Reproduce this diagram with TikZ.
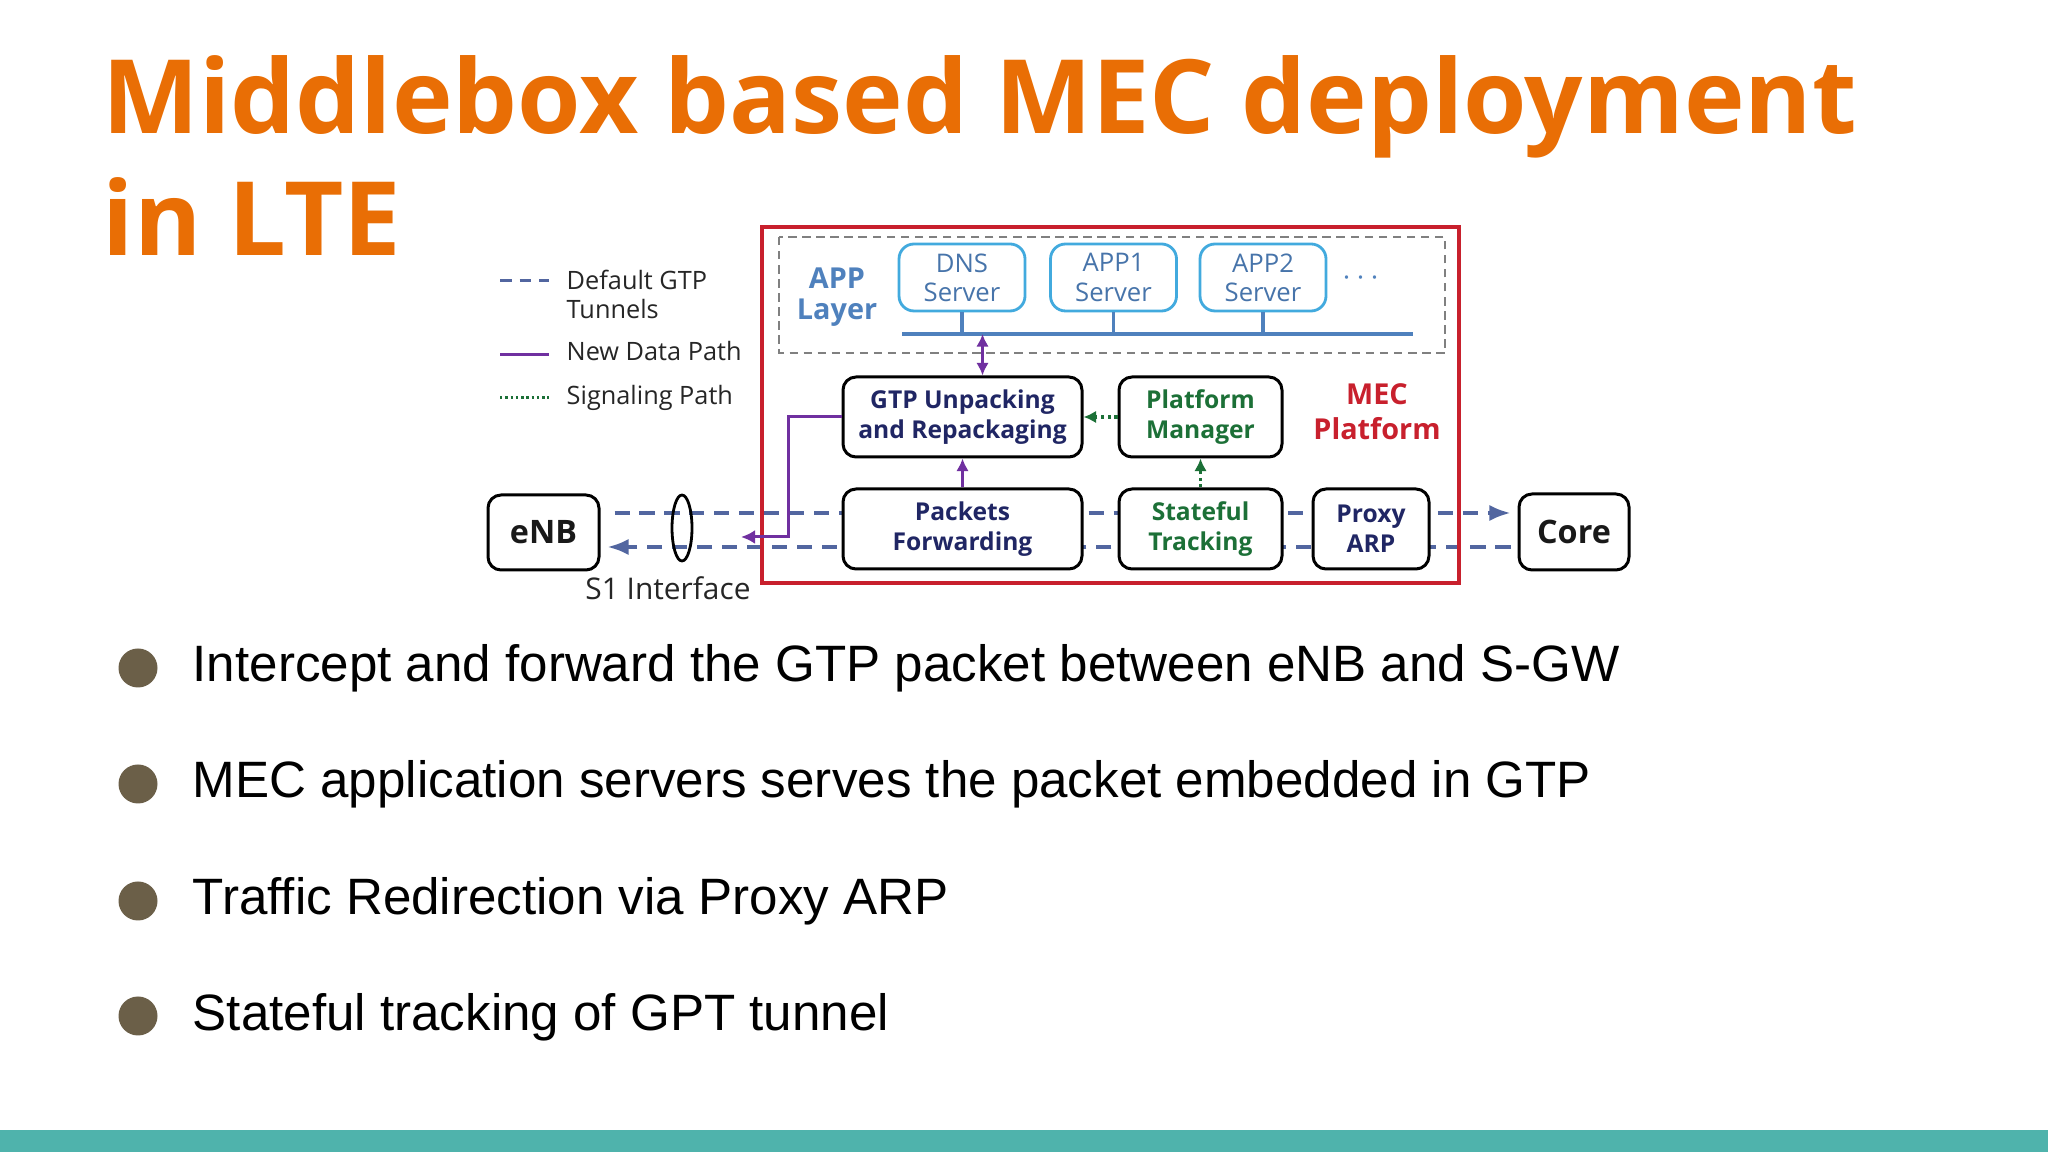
\documentclass[tikz,border=0pt]{standalone}
\usepackage{fontspec}
\setmainfont{Liberation Sans}
\newfontfamily\osans{Open Sans}
\usetikzlibrary{arrows.meta,backgrounds}
\definecolor{titleorange}{RGB}{233,110,5}
\definecolor{bulletbrown}{RGB}{107,95,72}
\definecolor{barteal}{RGB}{79,179,172}
\definecolor{mecred}{RGB}{200,32,45}
\definecolor{tunnelblue}{RGB}{82,102,160}
\definecolor{pathpurple}{RGB}{112,48,160}
\definecolor{siggreen}{RGB}{28,112,55}
\definecolor{appblue}{RGB}{79,129,189}
\definecolor{appcyan}{RGB}{66,170,222}
\definecolor{boxnavy}{RGB}{32,38,100}
\begin{document}
\begin{tikzpicture}[x=0.1mm,y=-0.1mm,
    title/.style={anchor=base west,inner sep=0pt,text=titleorange,
                  font=\osans\bfseries\fontsize{29.2}{34}\selectfont},
    btext/.style={anchor=base west,inner sep=0pt,font=\fontsize{14.55}{17}\selectfont},
    legend/.style={anchor=base west,inner sep=0pt,text=black!85,
                   font=\osans\fontsize{7.2}{8.6}\selectfont},
    box/.style={draw=black,line width=0.85pt,rounded corners=1.3mm,fill=white,
                align=center,inner sep=0pt,text=boxnavy,
                font=\osans\bfseries\fontsize{7}{8.6}\selectfont},
    appbox/.style={draw=appcyan,line width=0.8pt,rounded corners=1.5mm,fill=white,
                   align=center,inner sep=0pt,text=appblue!90!black,
                   minimum width=12.6mm,minimum height=6.7mm,
                   font=\osans\fontsize{7.3}{8.3}\selectfont},
    tunnel/.style={draw=tunnelblue,line width=1pt,dash pattern=on 4.3pt off 2.8pt},
    newpath/.style={draw=pathpurple,line width=0.85pt},
    sigpath/.style={draw=siggreen,line width=0.9pt,dash pattern=on 0.9pt off 1pt},
    bus/.style={draw=appblue,line width=1.1pt}]
        \useasboundingbox (0,0) rectangle (2048,1152);
        \fill[barteal] (0,1130) rectangle (2048,1152);

        \node[title] (t1) at (102,134) {Middlebox based MEC deployment};
        \node[title] (t2) at (102,256) {in LTE};

        \fill[bulletbrown] (138,668) circle (19.5);
        \fill[bulletbrown] (138,784) circle (19.5);
        \fill[bulletbrown] (138,901) circle (19.5);
        \fill[bulletbrown] (138,1016) circle (19.5);
        \node[btext] (b1) at (192,682) {Intercept and forward the GTP packet between eNB and S-GW};
        \node[btext] (b2) at (192,798) {MEC application servers serves the packet embedded in GTP};
        \node[btext] (b3) at (192,915) {Traffic Redirection via Proxy ARP};
        \node[btext] (b4) at (192,1031) {Stateful tracking of GPT tunnel};

        \node[legend] (lg1) at (566,290) {Default GTP};
        \node[legend] (lg2) at (566,319) {Tunnels};
        \node[legend] (lg3) at (566,361) {New Data Path};
        \node[legend] (lg4) at (566,405) {Signaling Path};
        \draw[tunnel,dash pattern=on 3.3pt off 2.3pt] (lg1.west) ++(-66,0) -- ++(49,0);
        \draw[newpath] (lg3.west) ++(-66,3) -- ++(49,0);
        \draw[sigpath,line width=0.7pt,dash pattern=on 0.7pt off 0.8pt] (lg4.west) ++(-66,-1) -- ++(49,0);

        \draw[draw=black!50,line width=0.7pt,dash pattern=on 2.4pt off 1.6pt]
              (779,237) rectangle (1445,353);
        \node[align=center,inner sep=0pt,text=appblue,
              font=\osans\bfseries\fontsize{8.2}{9}\selectfont] (app) at (837,297) {APP\\Layer};
        \node[appbox] (dns) at (962,277.5) {DNS\\Server};
        \node[appbox] (app1) at (1113.5,277.5) {APP1\\Server};
        \node[appbox] (app2) at (1263,277.5) {APP2\\Server};
        \node[inner sep=0pt,text=appblue,font=\osans\fontsize{9}{10}\selectfont] (dots) at (1361,278) {$\cdots$};
        \coordinate (busl) at (902,334);
        \coordinate (busr) at (1413,334);
        \draw[bus] (busl) -- (busr);
        \draw[bus] (dns.south) -- (dns.south |- busl);
        \draw[bus] (app1.south) -- (app1.south |- busl);
        \draw[bus] (app2.south) -- (app2.south |- busl);

        \node[box,minimum width=23.9mm,minimum height=8mm] (gtp) at (962.5,417)
              {GTP Unpacking\\and Repackaging};
        \node[box,minimum width=23.9mm,minimum height=8mm] (fwd) at (962.5,529)
              {Packets\\Forwarding};
        \node[box,minimum width=16.3mm,minimum height=8mm,text=siggreen] (pm) at (1200.5,417)
              {Platform\\Manager};
        \node[box,minimum width=16.3mm,minimum height=8mm,text=siggreen] (st) at (1200.5,529)
              {Stateful\\Tracking};
        \node[box,minimum width=11.6mm,minimum height=8mm] (arp) at (1371,529)
              {Proxy\\ARP};
        \node[align=center,inner sep=0pt,text=mecred,
              font=\osans\bfseries\fontsize{8.2}{10}\selectfont] (mec) at (1377,412) {MEC\\Platform};

        \node[box,minimum width=11.1mm,minimum height=7.5mm,text=black!90,
              font=\osans\bfseries\fontsize{9.2}{10}\selectfont] (enb) at (543.5,532.5) {eNB};
        \node[box,minimum width=11mm,minimum height=7.6mm,text=black!90,
              font=\osans\bfseries\fontsize{9.2}{10}\selectfont] (core) at (1574,532) {Core};

        \coordinate (up) at (0,513);
        \coordinate (dn) at (0,547);
        \coordinate (ret) at (741,537);
        \begin{scope}[on background layer]
        \fill[white] (0,0) rectangle (2048,1130);
        \draw[tunnel,-{Latex[length=6pt,width=4.6pt]},shorten <=1.4mm,shorten >=0.7mm]
              (enb.east |- up) -- (core.west |- up);
        \draw[tunnel,-{Latex[length=6pt,width=4.6pt]},shorten >=0.7mm,shorten <=0.7mm]
              (core.west |- dn) -- (enb.east |- dn);
        \end{scope}

        \draw[draw=mecred,line width=0.9pt] (762,227) rectangle (1459,583);

        \draw[black,line width=0.8pt] (682,528) ellipse [x radius=10,y radius=33];
        \node[anchor=base,inner sep=0pt,text=black!85,
              font=\osans\fontsize{8.5}{9}\selectfont] (s1) at (668,600) {S1 Interface};

        \draw[newpath,{Latex[length=3.6pt,width=3.6pt]}-{Latex[length=3.6pt,width=3.6pt]}]
              ([xshift=2mm]gtp.north |- busl) -- ([xshift=2mm]gtp.north);
        \draw[newpath,-{Latex[length=3.6pt,width=3.6pt]}] (fwd.north) -- (gtp.south);
        \draw[newpath,-{Latex[length=4pt,width=4pt]}] (gtp.west) -- ++(-53,0) |- (ret);
        \draw[sigpath,-{Latex[length=3.6pt,width=3.6pt]}] (pm.west) -- (gtp.east);
        \draw[sigpath,-{Latex[length=3.6pt,width=3.6pt]}] (st.north) -- (pm.south);
      \end{tikzpicture}
\end{document}
